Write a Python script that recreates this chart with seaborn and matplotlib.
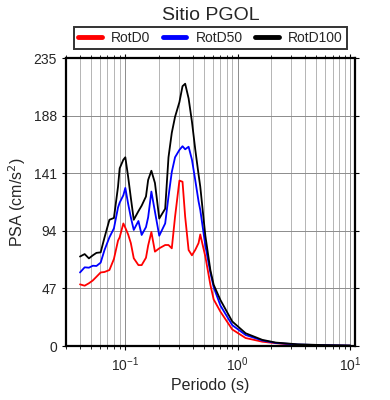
import matplotlib
matplotlib.use("Agg")
import matplotlib.pyplot as plt
import pandas as pd
import seaborn as sns
import numpy as np

sns.set_style("white")
plt.rcParams['font.family'] = ['Liberation Sans', 'DejaVu Sans']

# periodos (s)
periodo = [0.04, 0.044, 0.048, 0.052, 0.056, 0.061, 0.066, 0.073, 0.08, 0.087,
           0.09, 0.097, 0.101, 0.107, 0.113, 0.12, 0.132, 0.141, 0.154, 0.161,
           0.172, 0.185, 0.202, 0.228, 0.244, 0.261, 0.279, 0.305, 0.325, 0.343,
           0.368, 0.394, 0.422, 0.451, 0.467, 0.518, 0.574, 0.614, 0.705, 0.898,
           1.18, 1.66, 2.18, 3.41, 5.5, 10.0]

rotd0 = [50.3, 49.2, 51.2, 53.5, 56.5, 60.0, 60.4, 62.0, 71.0, 86.0,
         88.7, 100.0, 96.5, 91.0, 84.0, 71.6, 66.0, 66.0, 72.0, 82.0,
         93.0, 77.0, 79.7, 82.4, 82.4, 79.7, 105.5, 135.0, 134.0, 105.5,
         78.3, 74.0, 78.5, 84.0, 91.0, 73.0, 50.0, 38.0, 28.0, 13.5,
         6.5, 3.5, 2.3, 0.8, 0.4, 0.2]

rotd50 = [60.0, 64.2, 63.9, 65.5, 65.3, 68.0, 78.3, 88.7, 96.0, 113.0,
          117.0, 123.0, 129.0, 116.0, 105.0, 94.7, 102.0, 90.6, 97.0, 105.0,
          126.0, 109.6, 90.0, 100.0, 122.0, 142.0, 154.0, 160.0, 163.0, 160.5,
          162.6, 152.0, 135.0, 118.0, 111.0, 82.0, 60.0, 48.0, 33.0, 17.0,
          9.0, 4.5, 2.5, 1.2, 0.7, 0.3]

rotd100 = [73.0, 75.0, 71.5, 74.0, 76.0, 76.4, 88.5, 103.0, 104.5, 130.0,
           145.0, 152.0, 154.0, 138.0, 121.0, 103.0, 110.0, 114.5, 122.0, 135.5,
           143.0, 133.0, 104.0, 112.0, 154.0, 174.0, 187.0, 199.0, 212.0, 214.0,
           202.0, 183.0, 160.0, 140.0, 130.0, 90.0, 62.0, 50.0, 37.5, 20.0,
           10.4, 5.0, 2.8, 1.4, 0.8, 0.4]

yticks = [0, 47, 94, 141, 188, 235]

df = pd.DataFrame({'periodo': periodo, 'RotD0': rotd0, 'RotD50': rotd50, 'RotD100': rotd100})
df = df.melt(id_vars='periodo', var_name='comp', value_name='psa')

fig = plt.figure(figsize=(3.9, 4.0), dpi=100)
ax = fig.add_axes([0.169, 0.135, 0.741, 0.72])

sns.lineplot(data=df, x='periodo', y='psa', hue='comp', ax=ax,
             palette={'RotD0': 'red', 'RotD50': 'blue', 'RotD100': 'black'},
             linewidth=1.3, legend=False)

ax.set_xscale('log')
ax.set_xlim(0.03, 11)
ax.set_ylim(0, 235)
ax.set_yticks(yticks)
ax.grid(True, which='major', color='#8c8c8c', linewidth=0.7)
ax.grid(True, which='minor', axis='x', color='#a8a8a8', linewidth=0.6)
ax.set_axisbelow(True)

for s in ax.spines.values():
    s.set_linewidth(1.6)
    s.set_color('black')

ax.tick_params(which='both', direction='out', top=True, right=True,
               bottom=True, left=True, labelsize=10, color='black')
ax.tick_params(which='major', length=3, width=0.8)
ax.tick_params(which='minor', length=2.5, width=0.6)

ax.set_xlabel('Periodo (s)', fontsize=11.5, labelpad=3)
ax.set_ylabel('PSA (cm/s$^2$)', fontsize=11.5, labelpad=4)

handles = [plt.Line2D([], [], color=c, linewidth=3.5) for c in ['red', 'blue', 'black']]
leg = ax.legend(handles, ['RotD0', 'RotD50', 'RotD100'], ncol=3,
                loc='lower center', bbox_to_anchor=(0.5, 1.03),
                frameon=True, fancybox=False, fontsize=10,
                handlelength=1.7, columnspacing=0.9, handletextpad=0.65,
                borderpad=0.3, borderaxespad=0)
leg.get_frame().set_edgecolor('black')
leg.get_frame().set_linewidth(1.4)

fig.text(211 / 390, 1 - 15 / 400, 'Sitio PGOL', ha='center', va='center', fontsize=14)

fig.savefig('out.png', dpi=100)
